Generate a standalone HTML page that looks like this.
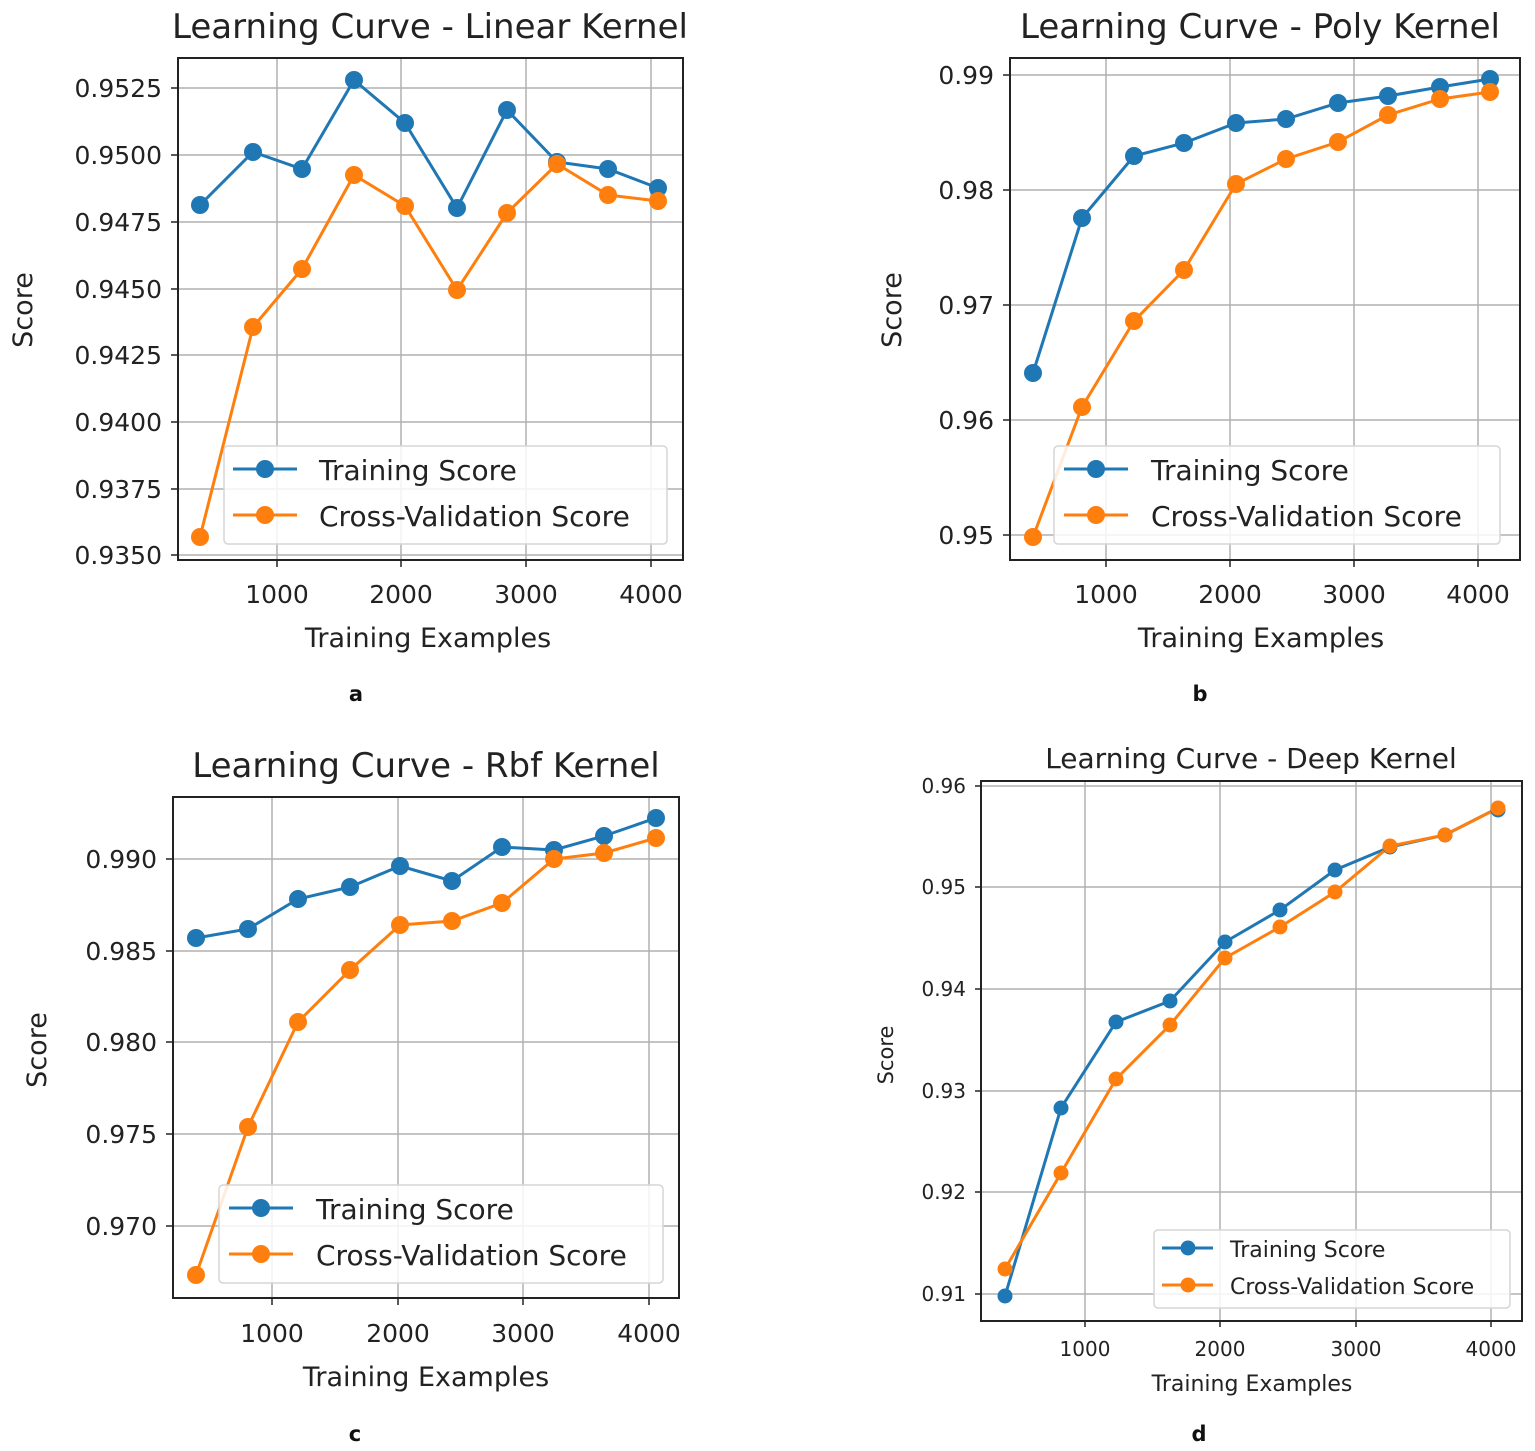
<!DOCTYPE html>
<html><head><meta charset="utf-8"><style>
html,body{margin:0;padding:0;background:#fff;}
svg{display:block;font-family:"DejaVu Sans","Liberation Sans",sans-serif;}
.g{stroke:#b0b0b0;stroke-width:1.5}
.ax{fill:none;stroke:#222;stroke-width:2}
.tk{stroke:#222;stroke-width:1.5}
.t{font-size:25px;fill:#222}
.ts{font-size:20px;fill:#222}
.b{fill:none;stroke:#1f77b4;stroke-width:3}
.o{fill:none;stroke:#ff7f0e;stroke-width:3}
.bd circle{fill:#1f77b4}
.od circle{fill:#ff7f0e}
</style></head><body>
<svg width="1535" height="1451" viewBox="0 0 1535 1451">
<!-- Panel a -->
<g>
<g class="g"><line x1="277" y1="58" x2="277" y2="560"/><line x1="401" y1="58" x2="401" y2="560"/><line x1="526" y1="58" x2="526" y2="560"/><line x1="651" y1="58" x2="651" y2="560"/>
<line x1="178" y1="88" x2="683" y2="88"/><line x1="178" y1="155" x2="683" y2="155"/><line x1="178" y1="222" x2="683" y2="222"/><line x1="178" y1="289" x2="683" y2="289"/><line x1="178" y1="355" x2="683" y2="355"/><line x1="178" y1="422" x2="683" y2="422"/><line x1="178" y1="489" x2="683" y2="489"/><line x1="178" y1="555" x2="683" y2="555"/></g>
<g class="tk"><line x1="277" y1="560" x2="277" y2="567"/><line x1="401" y1="560" x2="401" y2="567"/><line x1="526" y1="560" x2="526" y2="567"/><line x1="651" y1="560" x2="651" y2="567"/>
<line x1="171" y1="88" x2="178" y2="88"/><line x1="171" y1="155" x2="178" y2="155"/><line x1="171" y1="222" x2="178" y2="222"/><line x1="171" y1="289" x2="178" y2="289"/><line x1="171" y1="355" x2="178" y2="355"/><line x1="171" y1="422" x2="178" y2="422"/><line x1="171" y1="489" x2="178" y2="489"/><line x1="171" y1="555" x2="178" y2="555"/></g>
<rect class="ax" x="178" y="58" width="505" height="502"/>
<g class="t" text-anchor="end"><text x="162" y="97">0.9525</text><text x="162" y="164">0.9500</text><text x="162" y="231">0.9475</text><text x="162" y="298">0.9450</text><text x="162" y="364">0.9425</text><text x="162" y="431">0.9400</text><text x="162" y="498">0.9375</text><text x="162" y="564">0.9350</text></g>
<g class="t" text-anchor="middle"><text x="277" y="603">1000</text><text x="401" y="603">2000</text><text x="526" y="603">3000</text><text x="651" y="603">4000</text></g>
<text x="430" y="38" text-anchor="middle" style="font-size:34px;fill:#222">Learning Curve - Linear Kernel</text>
<text x="428" y="647" text-anchor="middle" style="font-size:27px;fill:#222">Training Examples</text>
<text transform="translate(32,310) rotate(-90)" text-anchor="middle" style="font-size:27px;fill:#222">Score</text>
<polyline class="b" points="200,205 253,152 302,169 354,80 405,123 457,208 507,110 557,162 608,169 658,188"/>
<polyline class="o" points="200,537 253,327 302,269 354,175 405,206 457,290 507,213 557,164 608,195 658,201"/>
<g class="bd"><circle cx="200" cy="205" r="9"/><circle cx="253" cy="152" r="9"/><circle cx="302" cy="169" r="9"/><circle cx="354" cy="80" r="9"/><circle cx="405" cy="123" r="9"/><circle cx="457" cy="208" r="9"/><circle cx="507" cy="110" r="9"/><circle cx="557" cy="162" r="9"/><circle cx="608" cy="169" r="9"/><circle cx="658" cy="188" r="9"/></g>
<g class="od"><circle cx="200" cy="537" r="9"/><circle cx="253" cy="327" r="9"/><circle cx="302" cy="269" r="9"/><circle cx="354" cy="175" r="9"/><circle cx="405" cy="206" r="9"/><circle cx="457" cy="290" r="9"/><circle cx="507" cy="213" r="9"/><circle cx="557" cy="164" r="9"/><circle cx="608" cy="195" r="9"/><circle cx="658" cy="201" r="9"/></g>
<rect x="224" y="446" width="443" height="98" rx="4" fill="#fff" fill-opacity="0.85" stroke="#d5d5d5" stroke-width="1.5"/>
<line class="b" x1="233" y1="469" x2="297" y2="469"/><circle cx="265" cy="469" r="9" fill="#1f77b4"/>
<line class="o" x1="233" y1="515" x2="297" y2="515"/><circle cx="265" cy="515" r="9" fill="#ff7f0e"/>
<text x="319" y="480" style="font-size:28px;fill:#222">Training Score</text>
<text x="319" y="526" style="font-size:28px;fill:#222">Cross-Validation Score</text>
<text x="356" y="701" text-anchor="middle" style="font-size:21px;font-weight:bold;fill:#111">a</text>
</g>
<!-- Panel b -->
<g>
<g class="g"><line x1="1106" y1="58" x2="1106" y2="560"/><line x1="1230" y1="58" x2="1230" y2="560"/><line x1="1354" y1="58" x2="1354" y2="560"/><line x1="1478" y1="58" x2="1478" y2="560"/>
<line x1="1010" y1="75" x2="1520" y2="75"/><line x1="1010" y1="190" x2="1520" y2="190"/><line x1="1010" y1="305" x2="1520" y2="305"/><line x1="1010" y1="420" x2="1520" y2="420"/><line x1="1010" y1="535" x2="1520" y2="535"/></g>
<g class="tk"><line x1="1106" y1="560" x2="1106" y2="567"/><line x1="1230" y1="560" x2="1230" y2="567"/><line x1="1354" y1="560" x2="1354" y2="567"/><line x1="1478" y1="560" x2="1478" y2="567"/>
<line x1="1003" y1="75" x2="1010" y2="75"/><line x1="1003" y1="190" x2="1010" y2="190"/><line x1="1003" y1="305" x2="1010" y2="305"/><line x1="1003" y1="420" x2="1010" y2="420"/><line x1="1003" y1="535" x2="1010" y2="535"/></g>
<rect class="ax" x="1010" y="58" width="510" height="502"/>
<g class="t" text-anchor="end"><text x="994" y="84">0.99</text><text x="994" y="199">0.98</text><text x="994" y="314">0.97</text><text x="994" y="429">0.96</text><text x="994" y="544">0.95</text></g>
<g class="t" text-anchor="middle"><text x="1106" y="603">1000</text><text x="1230" y="603">2000</text><text x="1354" y="603">3000</text><text x="1478" y="603">4000</text></g>
<text x="1260" y="38" text-anchor="middle" style="font-size:34px;fill:#222">Learning Curve - Poly Kernel</text>
<text x="1261" y="647" text-anchor="middle" style="font-size:27px;fill:#222">Training Examples</text>
<text transform="translate(901,310) rotate(-90)" text-anchor="middle" style="font-size:27px;fill:#222">Score</text>
<polyline class="b" points="1033,373 1082,218 1134,156 1184,143 1236,123 1286,119 1338,103 1388,96 1440,87 1490,79"/>
<polyline class="o" points="1033,537 1082,407 1134,321 1184,270 1236,184 1286,159 1338,142 1388,115 1440,99 1490,92"/>
<g class="bd"><circle cx="1033" cy="373" r="9"/><circle cx="1082" cy="218" r="9"/><circle cx="1134" cy="156" r="9"/><circle cx="1184" cy="143" r="9"/><circle cx="1236" cy="123" r="9"/><circle cx="1286" cy="119" r="9"/><circle cx="1338" cy="103" r="9"/><circle cx="1388" cy="96" r="9"/><circle cx="1440" cy="87" r="9"/><circle cx="1490" cy="79" r="9"/></g>
<g class="od"><circle cx="1033" cy="537" r="9"/><circle cx="1082" cy="407" r="9"/><circle cx="1134" cy="321" r="9"/><circle cx="1184" cy="270" r="9"/><circle cx="1236" cy="184" r="9"/><circle cx="1286" cy="159" r="9"/><circle cx="1338" cy="142" r="9"/><circle cx="1388" cy="115" r="9"/><circle cx="1440" cy="99" r="9"/><circle cx="1490" cy="92" r="9"/></g>
<rect x="1054" y="446" width="446" height="98" rx="4" fill="#fff" fill-opacity="0.85" stroke="#d5d5d5" stroke-width="1.5"/>
<line class="b" x1="1064" y1="469" x2="1128" y2="469"/><circle cx="1096" cy="469" r="9" fill="#1f77b4"/>
<line class="o" x1="1064" y1="515" x2="1128" y2="515"/><circle cx="1096" cy="515" r="9" fill="#ff7f0e"/>
<text x="1151" y="480" style="font-size:28px;fill:#222">Training Score</text>
<text x="1151" y="526" style="font-size:28px;fill:#222">Cross-Validation Score</text>
<text x="1200" y="701" text-anchor="middle" style="font-size:21px;font-weight:bold;fill:#111">b</text>
</g>
<!-- Panel c -->
<g>
<g class="g"><line x1="272" y1="797" x2="272" y2="1298"/><line x1="398" y1="797" x2="398" y2="1298"/><line x1="523" y1="797" x2="523" y2="1298"/><line x1="649" y1="797" x2="649" y2="1298"/>
<line x1="173" y1="859" x2="679" y2="859"/><line x1="173" y1="951" x2="679" y2="951"/><line x1="173" y1="1042" x2="679" y2="1042"/><line x1="173" y1="1134" x2="679" y2="1134"/><line x1="173" y1="1226" x2="679" y2="1226"/></g>
<g class="tk"><line x1="272" y1="1298" x2="272" y2="1305"/><line x1="398" y1="1298" x2="398" y2="1305"/><line x1="523" y1="1298" x2="523" y2="1305"/><line x1="649" y1="1298" x2="649" y2="1305"/>
<line x1="166" y1="859" x2="173" y2="859"/><line x1="166" y1="951" x2="173" y2="951"/><line x1="166" y1="1042" x2="173" y2="1042"/><line x1="166" y1="1134" x2="173" y2="1134"/><line x1="166" y1="1226" x2="173" y2="1226"/></g>
<rect class="ax" x="173" y="797" width="506" height="501"/>
<g class="t" text-anchor="end"><text x="157" y="868">0.990</text><text x="157" y="960">0.985</text><text x="157" y="1051">0.980</text><text x="157" y="1143">0.975</text><text x="157" y="1235">0.970</text></g>
<g class="t" text-anchor="middle"><text x="272" y="1342">1000</text><text x="398" y="1342">2000</text><text x="523" y="1342">3000</text><text x="649" y="1342">4000</text></g>
<text x="426" y="777" text-anchor="middle" style="font-size:34px;fill:#222">Learning Curve - Rbf Kernel</text>
<text x="426" y="1386" text-anchor="middle" style="font-size:27px;fill:#222">Training Examples</text>
<text transform="translate(46,1050) rotate(-90)" text-anchor="middle" style="font-size:27px;fill:#222">Score</text>
<polyline class="b" points="196,938 248,929 298,899 350,887 400,866 452,881 502,847 554,850 604,836 656,818"/>
<polyline class="o" points="196,1275 248,1127 298,1022 350,970 400,925 452,921 502,903 554,859 604,853 656,838"/>
<g class="bd"><circle cx="196" cy="938" r="9"/><circle cx="248" cy="929" r="9"/><circle cx="298" cy="899" r="9"/><circle cx="350" cy="887" r="9"/><circle cx="400" cy="866" r="9"/><circle cx="452" cy="881" r="9"/><circle cx="502" cy="847" r="9"/><circle cx="554" cy="850" r="9"/><circle cx="604" cy="836" r="9"/><circle cx="656" cy="818" r="9"/></g>
<g class="od"><circle cx="196" cy="1275" r="9"/><circle cx="248" cy="1127" r="9"/><circle cx="298" cy="1022" r="9"/><circle cx="350" cy="970" r="9"/><circle cx="400" cy="925" r="9"/><circle cx="452" cy="921" r="9"/><circle cx="502" cy="903" r="9"/><circle cx="554" cy="859" r="9"/><circle cx="604" cy="853" r="9"/><circle cx="656" cy="838" r="9"/></g>
<rect x="219" y="1185" width="444" height="98" rx="4" fill="#fff" fill-opacity="0.85" stroke="#d5d5d5" stroke-width="1.5"/>
<line class="b" x1="229" y1="1208" x2="293" y2="1208"/><circle cx="261" cy="1208" r="9" fill="#1f77b4"/>
<line class="o" x1="229" y1="1254" x2="293" y2="1254"/><circle cx="261" cy="1254" r="9" fill="#ff7f0e"/>
<text x="316" y="1219" style="font-size:28px;fill:#222">Training Score</text>
<text x="316" y="1265" style="font-size:28px;fill:#222">Cross-Validation Score</text>
<text x="355" y="1441" text-anchor="middle" style="font-size:21px;font-weight:bold;fill:#111">c</text>
</g>
<!-- Panel d -->
<g>
<g class="g"><line x1="1085" y1="781" x2="1085" y2="1321"/><line x1="1220" y1="781" x2="1220" y2="1321"/><line x1="1356" y1="781" x2="1356" y2="1321"/><line x1="1491" y1="781" x2="1491" y2="1321"/>
<line x1="981" y1="786" x2="1522" y2="786"/><line x1="981" y1="887" x2="1522" y2="887"/><line x1="981" y1="989" x2="1522" y2="989"/><line x1="981" y1="1091" x2="1522" y2="1091"/><line x1="981" y1="1192" x2="1522" y2="1192"/><line x1="981" y1="1294" x2="1522" y2="1294"/></g>
<g class="tk"><line x1="1085" y1="1321" x2="1085" y2="1327"/><line x1="1220" y1="1321" x2="1220" y2="1327"/><line x1="1356" y1="1321" x2="1356" y2="1327"/><line x1="1491" y1="1321" x2="1491" y2="1327"/>
<line x1="975" y1="786" x2="981" y2="786"/><line x1="975" y1="887" x2="981" y2="887"/><line x1="975" y1="989" x2="981" y2="989"/><line x1="975" y1="1091" x2="981" y2="1091"/><line x1="975" y1="1192" x2="981" y2="1192"/><line x1="975" y1="1294" x2="981" y2="1294"/></g>
<rect class="ax" x="981" y="781" width="541" height="540"/>
<g class="ts" text-anchor="end"><text x="966" y="793">0.96</text><text x="966" y="894">0.95</text><text x="966" y="996">0.94</text><text x="966" y="1098">0.93</text><text x="966" y="1199">0.92</text><text x="966" y="1301">0.91</text></g>
<g class="ts" text-anchor="middle"><text x="1085" y="1356">1000</text><text x="1220" y="1356">2000</text><text x="1356" y="1356">3000</text><text x="1491" y="1356">4000</text></g>
<text x="1251" y="768" text-anchor="middle" style="font-size:28px;fill:#222">Learning Curve - Deep Kernel</text>
<text x="1252" y="1391" text-anchor="middle" style="font-size:22px;fill:#222">Training Examples</text>
<text transform="translate(893,1055) rotate(-90)" text-anchor="middle" style="font-size:21px;fill:#222">Score</text>
<polyline class="b" points="1005,1296 1061,1108 1116,1022 1170,1001 1225,942 1280,910 1335,870 1390,847 1445,835 1498,808"/>
<polyline class="o" points="1005,1269 1061,1173 1116,1079 1170,1025 1225,958 1280,927 1335,892 1390,846 1445,835 1498,808"/>
<g class="bd"><circle cx="1005" cy="1296" r="7.5"/><circle cx="1061" cy="1108" r="7.5"/><circle cx="1116" cy="1022" r="7.5"/><circle cx="1170" cy="1001" r="7.5"/><circle cx="1225" cy="942" r="7.5"/><circle cx="1280" cy="910" r="7.5"/><circle cx="1335" cy="870" r="7.5"/><circle cx="1390" cy="847" r="7.5"/><circle cx="1445" cy="835" r="7.5"/><circle cx="1498" cy="810" r="7.5"/></g>
<g class="od"><circle cx="1005" cy="1269" r="7.5"/><circle cx="1061" cy="1173" r="7.5"/><circle cx="1116" cy="1079" r="7.5"/><circle cx="1170" cy="1025" r="7.5"/><circle cx="1225" cy="958" r="7.5"/><circle cx="1280" cy="927" r="7.5"/><circle cx="1335" cy="892" r="7.5"/><circle cx="1390" cy="846" r="7.5"/><circle cx="1445" cy="835" r="7.5"/><circle cx="1498" cy="808" r="7.5"/></g>
<rect x="1154" y="1230" width="356" height="78" rx="4" fill="#fff" fill-opacity="0.85" stroke="#d5d5d5" stroke-width="1.5"/>
<line class="b" x1="1162" y1="1248" x2="1213" y2="1248"/><circle cx="1188" cy="1248" r="7.5" fill="#1f77b4"/>
<line class="o" x1="1162" y1="1285" x2="1213" y2="1285"/><circle cx="1188" cy="1285" r="7.5" fill="#ff7f0e"/>
<text x="1230" y="1257" style="font-size:22px;fill:#222">Training Score</text>
<text x="1230" y="1294" style="font-size:22px;fill:#222">Cross-Validation Score</text>
<text x="1199" y="1441" text-anchor="middle" style="font-size:21px;font-weight:bold;fill:#111">d</text>
</g>
</svg>
</body></html>
